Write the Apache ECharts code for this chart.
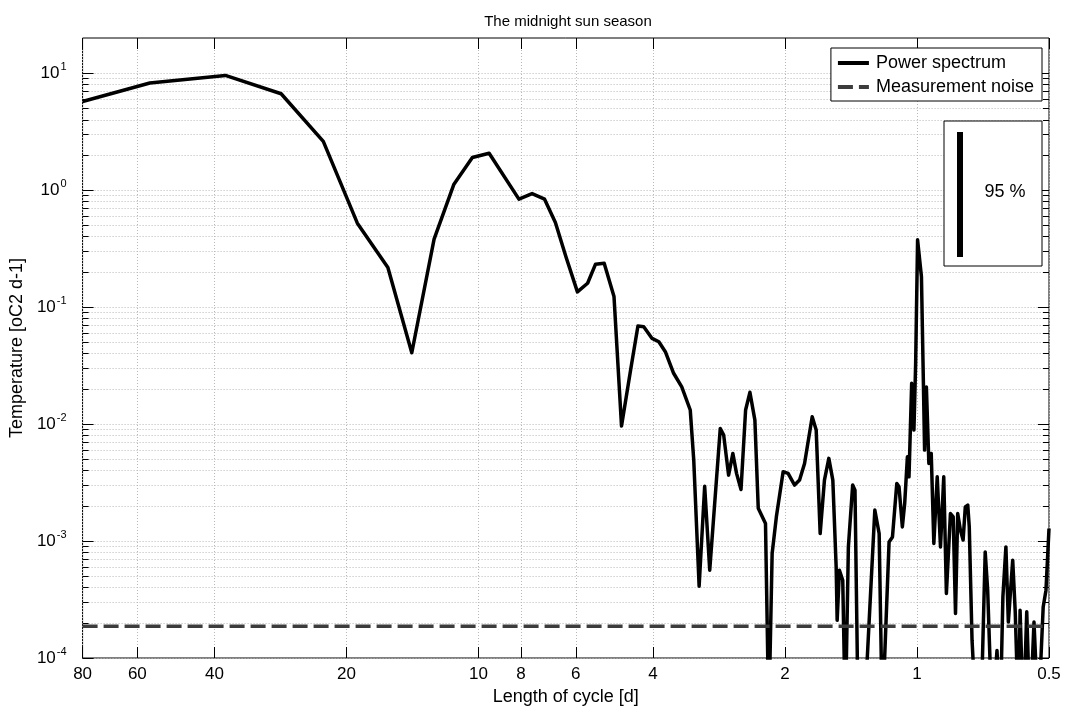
<!DOCTYPE html>
<html><head><meta charset="utf-8">
<script src="https://cdn.jsdelivr.net/npm/echarts@6/dist/echarts.min.js"></script>
<style>html,body{margin:0;padding:0;background:#fff}#c{width:1072px;height:716px}</style>
</head><body><div id="c"></div>
<script>
// ---- data ----
const periodTicks = [80, 60, 40, 20, 10, 8, 6, 4, 2, 1, 0.5];
const decadeTicks = [1e-4, 1e-3, 1e-2, 1e-1, 1, 10];
const minorTicks = [
  2e-4,3e-4,4e-4,5e-4,6e-4,7e-4,8e-4,9e-4,
  2e-3,3e-3,4e-3,5e-3,6e-3,7e-3,8e-3,9e-3,
  2e-2,3e-2,4e-2,5e-2,6e-2,7e-2,8e-2,9e-2,
  0.2,0.3,0.4,0.5,0.6,0.7,0.8,0.9,
  2,3,4,5,6,7,8,9
];
// length of cycle [d]
const period = [
  80, 56.2, 37.8, 28.2, 22.6, 18.9, 16.1, 14.2, 12.63, 11.38,
  10.33, 9.46, 8.09, 7.55, 7.07, 6.68, 6.32, 5.95, 5.64, 5.41,
  5.17, 4.91, 4.72, 4.50, 4.33, 4.20, 4.02, 3.88, 3.75, 3.59,
  3.44, 3.29, 3.23, 3.14, 3.05, 2.97, 2.81, 2.76, 2.69, 2.63,
  2.58, 2.52, 2.46, 2.405, 2.343, 2.302, 2.216, 2.178, 2.14, 2.093,
  2.02, 1.968, 1.902, 1.853, 1.805, 1.734, 1.698, 1.663, 1.626, 1.589,
  1.556, 1.529, 1.521, 1.503, 1.477, 1.457, 1.434, 1.402, 1.385, 1.362,
  1.320, 1.248, 1.220, 1.20, 1.158, 1.1375, 1.112, 1.099, 1.080, 1.0668,
  1.0518, 1.043, 1.0285, 1.0163, 1.0072, 0.997, 0.977, 0.967, 0.961, 0.952,
  0.9396, 0.928, 0.9154, 0.8993, 0.884, 0.869, 0.857, 0.839, 0.827, 0.817,
  0.8076, 0.7963, 0.785, 0.776, 0.766, 0.760, 0.749, 0.733, 0.715, 0.699,
  0.690, 0.6745, 0.657, 0.646, 0.637, 0.627, 0.619, 0.605, 0.597, 0.587,
  0.582, 0.572, 0.562, 0.5525, 0.541, 0.529, 0.5155, 0.508, 0.5
];
// power spectrum [oC2 d-1]
const power = [
  5.73, 8.24, 9.57, 6.67, 2.61, 0.522, 0.218, 0.0407, 0.381, 1.125,
  1.90, 2.07, 0.838, 0.935, 0.838, 0.528, 0.270, 0.135, 0.160, 0.233,
  0.237, 0.123, 0.00962, 0.029, 0.069, 0.068, 0.054, 0.0506, 0.0416, 0.0272,
  0.0208, 0.0132, 0.00492, 0.000411, 0.00294, 0.000563, 0.00918, 0.00805, 0.00366, 0.00561,
  0.00379, 0.00276, 0.0132, 0.0187, 0.0108, 0.00191, 0.00141, 0.00003, 0.000782, 0.00161,
  0.00391, 0.00379, 0.00301, 0.00332, 0.00461, 0.01155, 0.00889, 0.00116, 0.00332, 0.00509,
  0.00332, 0.000601, 0.00021, 0.000563, 0.000462, 0.00003, 0.000891, 0.00301, 0.00272, 0.00003,
  0.00003, 0.00184, 0.00116, 0.00003, 0.000983, 0.001085, 0.00311, 0.00291, 0.00132, 0.0021,
  0.00525, 0.00354, 0.0223, 0.00889, 0.033, 0.376, 0.182, 0.0223, 0.00599, 0.0208,
  0.00461, 0.00561, 0.000953, 0.00354, 0.000891, 0.00354, 0.000356, 0.00172, 0.00161, 0.00024,
  0.00172, 0.00124, 0.00102, 0.00196, 0.00203, 0.00132, 0.000142, 0.00003, 0.00003, 0.000807,
  0.00038, 0.00003, 0.000116, 0.00003, 0.000333, 0.000891, 0.000203, 0.000686, 0.000248, 0.00003,
  0.000256, 0.00003, 0.000248, 0.00003, 0.000203, 0.00003, 0.000273, 0.00038, 0.00128
];
const noisePeriod = [80, 0.5];
const noiseLevel = [1.87e-4, 1.87e-4];

// ---- chart ----
const FONT = "'Liberation Sans', Arial, Helvetica, sans-serif";
const chart = echarts.init(document.getElementById('c'), null, {renderer: 'canvas'});
const gridLine = {show: true, lineStyle: {color: '#b8b8b8', width: 1, type: [1, 2]}};
const xBase = {type: 'log', logBase: 10, min: 0.5, max: 80, inverse: true, axisLine: {show: false}};
const yBase = {type: 'log', logBase: 10, min: 1e-4, max: 20, axisLine: {show: false}};
const tickStyle = {color: '#000', width: 1};
const allY = decadeTicks.concat(minorTicks);

chart.setOption({
  animation: false,
  backgroundColor: '#fff',
  textStyle: {fontFamily: FONT},
  title: {
    text: 'The midnight sun season', left: 563, top: 9, textAlign: 'center',
    textStyle: {fontSize: 15, fontWeight: 'normal', color: '#000', fontFamily: FONT}
  },
  grid: {left: 77, right: 23, top: 38, bottom: 58, show: true, borderColor: '#000', borderWidth: 1, backgroundColor: '#fff'},
  legend: {
    orient: 'vertical', right: 30, top: 48, itemWidth: 31, itemHeight: 14, itemGap: 6,
    padding: [6, 8, 5, 5], backgroundColor: '#fff', borderColor: '#000', borderWidth: 1, borderRadius: 0,
    itemStyle: {opacity: 0},
    lineStyle: {width: 4},
    textStyle: {fontSize: 18, color: '#000', fontFamily: FONT, lineHeight: 18, padding: [0, 0, 0, 2]},
    data: ['Power spectrum', 'Measurement noise']
  },
  xAxis: [
    Object.assign({}, xBase, {
      position: 'bottom',
      axisTick: {inside: true, length: 11, lineStyle: tickStyle, customValues: periodTicks},
      axisLabel: {customValues: periodTicks, color: '#000', fontSize: 17, fontFamily: FONT, margin: 8,
        formatter: v => String(+(+v).toPrecision(3))},
      splitLine: gridLine,
      name: 'Length of cycle [d]', nameLocation: 'middle', nameGap: 23,
      nameTextStyle: {fontSize: 18, color: '#000', fontFamily: FONT}
    }),
    Object.assign({}, xBase, {
      position: 'top',
      axisTick: {inside: true, length: 11, lineStyle: tickStyle, customValues: periodTicks},
      axisLabel: {show: false}, splitLine: {show: false}
    })
  ],
  yAxis: [
    Object.assign({}, yBase, {
      position: 'left',
      axisTick: {inside: true, length: 11, lineStyle: tickStyle, customValues: decadeTicks},
      axisLabel: {customValues: decadeTicks, margin: 16, color: '#000',
        formatter: v => '{b|10}{s|' + Math.round(Math.log10(v)) + '}',
        rich: {b: {fontSize: 17, color: '#000', fontFamily: FONT},
               s: {fontSize: 11, color: '#000', fontFamily: FONT, padding: [0, 0, 13, 1]}}},
      splitLine: {show: false},
      name: 'Temperature [oC2 d-1]', nameLocation: 'middle', nameGap: 44, nameRotate: 90,
      nameTextStyle: {fontSize: 18, color: '#000', fontFamily: FONT}
    }),
    Object.assign({}, yBase, {
      position: 'left',
      axisTick: {inside: true, length: 6, lineStyle: tickStyle, customValues: allY},
      axisLabel: {show: false}, splitLine: gridLine
    }),
    Object.assign({}, yBase, {
      position: 'right',
      axisTick: {inside: true, length: 11, lineStyle: tickStyle, customValues: decadeTicks},
      axisLabel: {show: false}, splitLine: {show: false}
    }),
    Object.assign({}, yBase, {
      position: 'right',
      axisTick: {inside: true, length: 6, lineStyle: tickStyle, customValues: allY},
      axisLabel: {show: false}, splitLine: {show: false}
    })
  ],
  series: [
    {
      name: 'Power spectrum', type: 'line', xAxisIndex: 0, yAxisIndex: 0,
      data: period.map((p, i) => [p, power[i]]),
      symbol: 'none', clip: true, z: 3,
      lineStyle: {color: '#000', width: 3.5, join: 'round'}, itemStyle: {color: '#000'}
    },
    {
      name: 'Measurement noise', type: 'line', xAxisIndex: 0, yAxisIndex: 0,
      data: noisePeriod.map((p, i) => [p, noiseLevel[i]]),
      symbol: 'none', clip: true, z: 4,
      lineStyle: {color: '#3c3c3c', width: 3.5, type: [15, 6]}, itemStyle: {color: '#3c3c3c'}
    }
  ],
  graphic: [
    {type: 'rect', z: 100, shape: {x: 944, y: 121, width: 98, height: 145},
      style: {fill: '#fff', stroke: '#000', lineWidth: 1}},
    {type: 'line', z: 101, shape: {x1: 960, y1: 132, x2: 960, y2: 257},
      style: {stroke: '#000', lineWidth: 6}},
    {type: 'text', z: 101, x: 1005, y: 192,
      style: {text: '95 %', fontSize: 18, fill: '#000', align: 'center', verticalAlign: 'middle', fontFamily: FONT}}
  ]
});
</script></body></html>
